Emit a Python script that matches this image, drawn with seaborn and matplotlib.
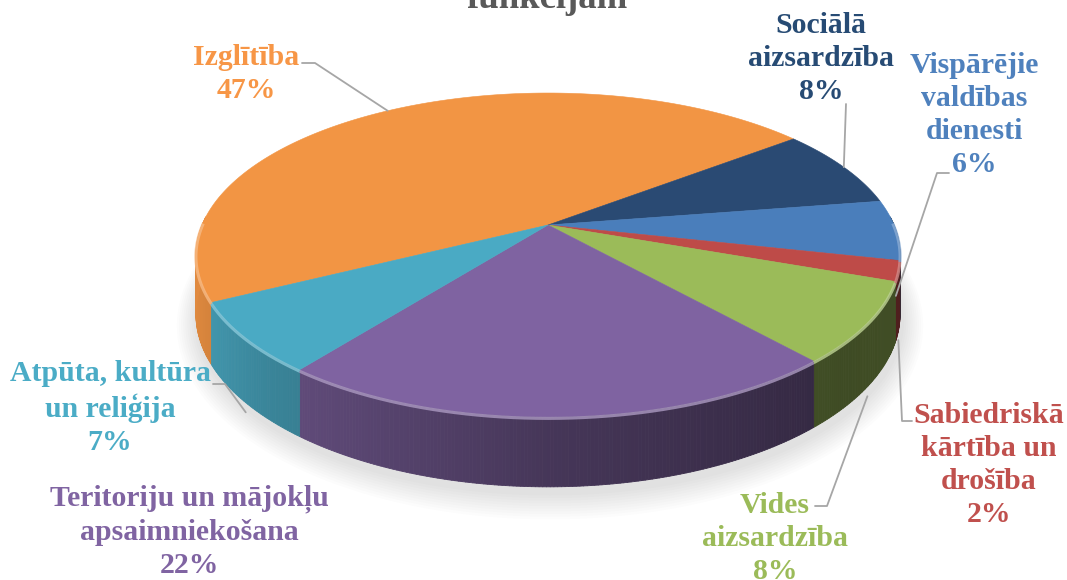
import numpy as np
import matplotlib.pyplot as plt
import matplotlib.colors as mcolors
from matplotlib.collections import PolyCollection
import seaborn as sns

# ---------------------------------------------------------------------------
# Data
# ---------------------------------------------------------------------------
categories = [
    "Izglītība",
    "Sociālā\naizsardzība",
    "Vispārējie\nvaldības\ndienesti",
    "Sabiedriskā\nkārtība un\ndrošība",
    "Vides\naizsardzība",
    "Teritoriju un mājokļu\napsaimniekošana",
    "Atpūta, kultūra\nun reliģija",
]
shares = [47, 8, 6, 2, 8, 22, 7]
title_tail = "funkcijām"

top_colors = ["#F29544", "#2A4A73", "#4A7EBB", "#BE4B48", "#9BBB59", "#7F63A1", "#4AAAC4"]
text_colors = ["#F79646", "#274B74", "#4F81BD", "#C0504D", "#9BBB59", "#8064A2", "#4BACC6"]

# label layout: (centre x, baseline of the last line) in pixels
label_pos = [(246, 98), (821, 99), (974, 172), (989, 522), (775, 579), (189, 573), (110, 450)]
# leader start + elbow (None = no leader)
leaders = [
    ((302, 63), (315, 63)),
    ((846, 104), None),
    ((949, 173), (937, 173)),
    ((912, 421), (902, 421)),
    ((815, 506), (827, 506)),
    None,
    ((213, 384), (225, 384)),
]

# ---------------------------------------------------------------------------
# 3D pie geometry (perspective projected disc)
# ---------------------------------------------------------------------------
W, H = 1067, 580
AX_, AY_ = 548, 225          # projected centre of the disc
SX, SY, Q = 346, 156.4, 0.185
D0 = 57                      # wall height
START = 207                  # first slice starts here, goes clockwise


def rim(t_deg):
    t = np.radians(t_deg)
    w = 1 + Q * np.sin(t)
    return AX_ + SX * np.cos(t) / w, AY_ - SY * np.sin(t) / w


def depth(t_deg):
    return D0 / (1 + Q * np.sin(np.radians(t_deg)))


def shade(hex_color, f):
    r, g, b = mcolors.to_rgb(hex_color)
    return (r * f, g * f, b * f)


def lighten(hex_color, f):
    r, g, b = mcolors.to_rgb(hex_color)
    return (r + (1 - r) * f, g + (1 - g) * f, b + (1 - b) * f)


sns.set_theme(style="white")
plt.rcParams["font.family"] = ["Liberation Serif", "DejaVu Serif"]

fig = plt.figure(figsize=(W / 100, H / 100), dpi=100)
ax = fig.add_axes([0, 0, 1, 1])
ax.set_xlim(0, W)
ax.set_ylim(H, 0)
ax.axis("off")

fracs = np.array(shares, dtype=float) / np.sum(shares)
bounds = START - np.concatenate([[0], np.cumsum(fracs)]) * 360

# soft shadow under the disc
tt = np.linspace(0, 360, 361)
bx, by = rim(tt)
by = by + depth(tt)
for k in range(10, 0, -1):
    cx, cy = AX_, AY_ + 40
    ax.fill(cx + (bx - cx) * (1 + k * 0.006) + 2, cy + (by - cy) * (1 + k * 0.012) + 6,
            color="#000000", alpha=0.012, lw=0, zorder=1)

# side walls
quads, fcs = [], []
for i, col in enumerate(top_colors):
    t0, t1 = bounds[i], bounds[i + 1]
    n = max(2, int(abs(t0 - t1) / 0.5))
    ts = np.linspace(t0, t1, n + 1)
    for a, b in zip(ts[:-1], ts[1:]):
        m = 0.5 * (a + b)
        if np.sin(np.radians(m)) > 0.05:
            continue
        xa, ya = rim(a)
        xb, yb = rim(b)
        quads.append([(xa, ya), (xb, yb), (xb, yb + depth(b)), (xa, ya + depth(a))])
        c = np.cos(np.radians(m))
        f = np.interp(c, [-1, -0.7, 0, 0.75, 1], [0.93, 0.78, 0.55, 0.40, 0.42])
        fcs.append(shade(col, f))
ax.add_collection(PolyCollection(quads, facecolors=fcs, edgecolors=fcs, linewidths=0.6, zorder=2))

# top faces
for i, col in enumerate(top_colors):
    ts = np.linspace(bounds[i], bounds[i + 1], 200)
    x, y = rim(ts)
    ax.fill(np.r_[AX_, x], np.r_[AY_, y], color=col, lw=0.4, ec=col, zorder=3)
    front = np.sin(np.radians(ts)) < 0.02
    if front.any():
        ax.plot(x[front], y[front] + 1.5, color=lighten(col, 0.35), lw=2.2,
                alpha=0.8, solid_capstyle="butt", zorder=4)

# labels and leader lines
for i, (cat, col) in enumerate(zip(categories, text_colors)):
    lx, ly = label_pos[i]
    ax.text(lx, ly, f"{cat}\n{shares[i]}%", color=col, fontsize=21.4, fontweight="bold",
            ha="center", va="baseline", multialignment="center", linespacing=1.29, zorder=6)
    if leaders[i] is None:
        continue
    mid = 0.5 * (bounds[i] + bounds[i + 1])
    ex, ey = rim(mid)
    if np.sin(np.radians(mid)) < 0:
        ey = ey + depth(mid) * 1.15
    start, elbow = leaders[i]
    pts = [start] + ([elbow] if elbow else []) + [(ex, ey)]
    ax.plot([p[0] for p in pts], [p[1] for p in pts], color="#A6A6A6", lw=1.3, zorder=5)

ax.text(547, 8, title_tail, color="#595959", fontsize=26.5, fontweight="bold",
        ha="center", va="baseline", zorder=6)

fig.savefig("out.png", dpi=100)
